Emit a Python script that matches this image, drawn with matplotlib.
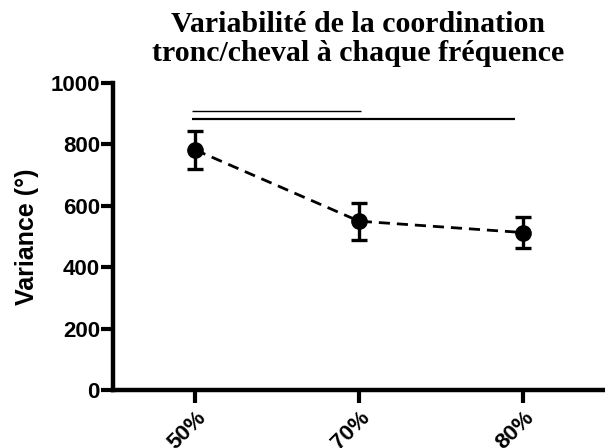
"""
Trunk/horse coordination variability at each stride frequency,
mean variance with error bars and significance bars.
"""

import matplotlib
matplotlib.use('Agg')
import matplotlib.pyplot as plt
import numpy as np

# Data
frequencies = ['50%', '70%', '80%']
variance_mean = [782, 550, 513]
variance_err = [61, 60, 51]
y_ticks = [0, 200, 400, 600, 800, 1000]

# significance bars: (start, end, height, linewidth)
sig_bars = [(-0.02, 1.01, 910, 1.0), (-0.02, 1.95, 883, 1.6)]

plt.rcParams['font.family'] = ['Liberation Sans', 'DejaVu Sans']

fig = plt.figure(figsize=(6.05, 4.48), dpi=100)
ax = fig.add_axes([0.187, 0.129, 0.813, 0.686])

x = np.arange(len(frequencies))
ax.errorbar(x, variance_mean, yerr=variance_err, fmt='o', color='black',
            markersize=11, elinewidth=2.4, capsize=6, capthick=2.4, zorder=3)
ax.plot(x, variance_mean, linestyle=(0, (4, 2.5)), color='black', linewidth=2.0, zorder=2)

for x0, x1, yv, lw in sig_bars:
    ax.plot([x0, x1], [yv, yv], color='black', linewidth=lw,
            solid_capstyle='butt', clip_on=False)

ax.set_xlim(-0.5, 2.5)
ax.set_ylim(0, 1000)
ax.set_yticks(y_ticks)
ax.set_xticks(x)
ax.set_xticklabels(frequencies, rotation=45, ha='right', rotation_mode='anchor',
                   fontsize=16, fontweight='bold')
ax.set_yticklabels([str(v) for v in y_ticks], fontsize=16, fontweight='bold')
ax.set_ylabel('Variance (°)', fontsize=18, fontweight='bold', labelpad=8)

for side in ['top', 'right']:
    ax.spines[side].set_visible(False)
for side in ['left', 'bottom']:
    ax.spines[side].set_linewidth(3.2)
ax.tick_params(axis='y', width=3.0, length=9, pad=0.5)
ax.tick_params(axis='x', width=3.0, length=9, pad=3)

fig.text(0.592, 0.975, 'Variabilité de la coordination\ntronc/cheval à chaque fréquence',
         ha='center', va='top', fontsize=21.5, fontweight='bold',
         family='Liberation Serif', linespacing=1.1)

fig.savefig('out.png', dpi=100)
